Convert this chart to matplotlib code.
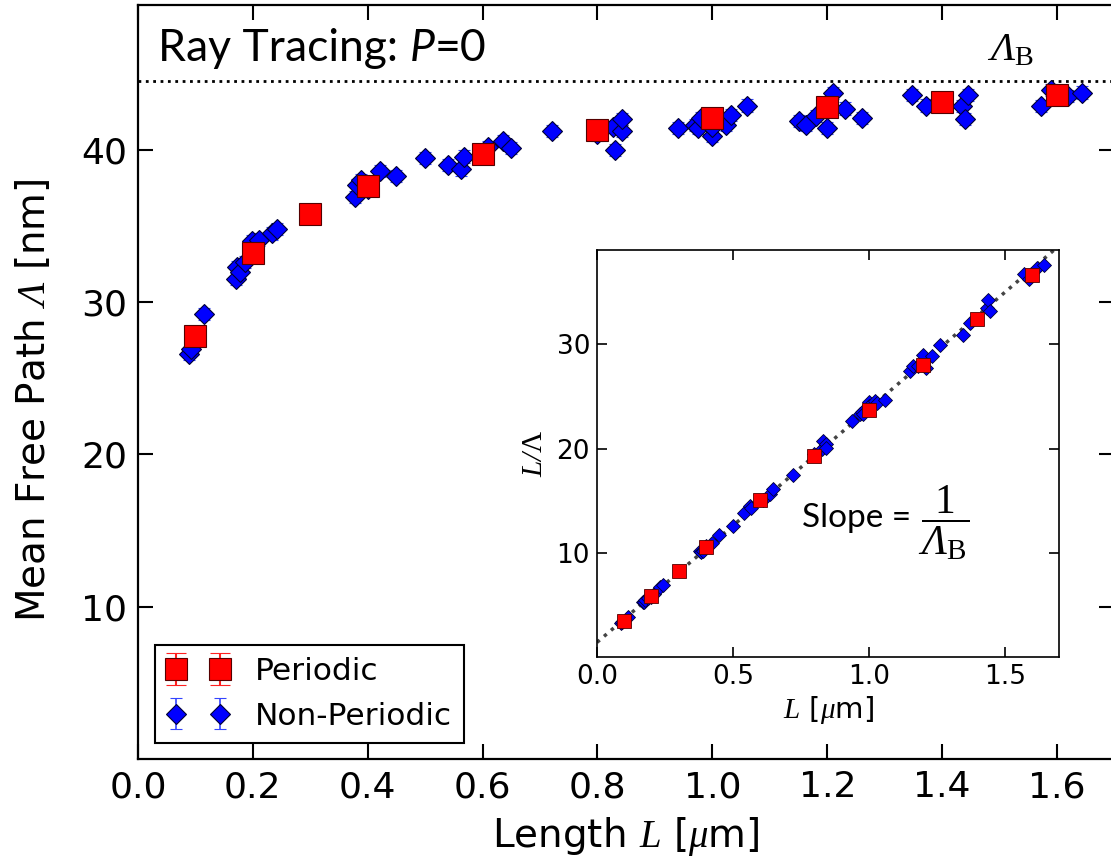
import matplotlib
matplotlib.use('Agg')
import matplotlib.pyplot as plt
from matplotlib.offsetbox import TextArea, HPacker, AnchoredOffsetbox

plt.rcParams['font.family'] = ['DejaVu Sans']
# math letters drawn in a serif italic, \mathsf used for upright serif
plt.rcParams['mathtext.fontset'] = 'custom'
plt.rcParams['mathtext.rm'] = 'Liberation Serif:italic'
plt.rcParams['mathtext.it'] = 'Liberation Serif:italic'
plt.rcParams['mathtext.sf'] = 'Liberation Serif'

# periodic runs (red squares)
L_p = [0.1, 0.2, 0.3, 0.4, 0.6, 0.8, 1.0, 1.2, 1.4, 1.6]
mfp_p = [27.8, 33.2, 35.8, 37.6, 39.7, 41.3, 42.1, 42.8, 43.1, 43.6]
err_p = 0.6
ratio_p = [3.55, 5.95, 8.35, 10.6, 15.1, 19.3, 23.75, 28.05, 32.4, 36.65]

# non-periodic runs (blue diamonds)
L_np = [0.088, 0.092, 0.115,
        0.170, 0.173, 0.178, 0.186, 0.198, 0.21, 0.233, 0.242,
        0.378, 0.381, 0.389, 0.40, 0.422, 0.45,
        0.50, 0.54, 0.562, 0.568, 0.61, 0.636, 0.649, 0.72,
        0.80, 0.827, 0.83, 0.843, 0.843,
        0.94, 0.969, 0.975, 0.98, 1.0, 1.0, 1.023, 1.032, 1.06,
        1.15, 1.163, 1.18, 1.20, 1.21, 1.231, 1.261,
        1.347, 1.372, 1.435, 1.439, 1.445,
        1.572, 1.59, 1.62, 1.643]
mfp_np = [26.6, 26.9, 29.2,
          31.5, 32.3, 32.0, 32.6, 34.0, 34.1, 34.5, 34.8,
          36.9, 37.7, 38.0, 37.4, 38.6, 38.25,
          39.45, 39.0, 38.7, 39.55, 40.2, 40.55, 40.1, 41.2,
          41.0, 41.5, 40.0, 41.2, 42.0,
          41.4, 41.6, 41.4, 42.1, 40.9, 41.5, 41.6, 42.3, 42.9,
          41.9, 41.6, 42.2, 41.4, 43.7, 42.7, 42.1,
          43.6, 42.9, 42.85, 42.0, 43.6,
          42.85, 43.9, 43.5, 43.75]
err_np = 0.4
ratio_np = [3.3, 3.4, 3.95,
            5.4, 5.35, 5.55, 5.7, 5.8, 6.15, 6.75, 6.95,
            10.25, 10.1, 10.25, 10.7, 10.95, 11.75,
            12.65, 13.85, 14.5, 14.35, 15.15, 15.7, 16.2, 17.5,
            19.5, 19.95, 20.75, 20.45, 20.05,
            22.7, 23.3, 23.55, 23.3, 24.45, 24.1, 24.6, 24.4, 24.7,
            27.45, 27.95, 27.95, 29.0, 27.7, 28.85, 29.95,
            30.9, 32.0, 33.5, 34.25, 33.15,
            36.7, 36.2, 37.25, 37.55]

mfp_bulk = 44.5
fit_L = [0.0, 1.7]
fit_ratio = [1.5, 39.4]

fig = plt.figure(figsize=(11.11, 8.57), dpi=100)
ax = fig.add_axes([0.1242, 0.1144, 0.8789, 0.8798])

ax.axhline(mfp_bulk, color='k', ls=':', lw=2, zorder=1)
ax.errorbar(L_np, mfp_np, yerr=err_np, fmt='D', color='#0000ff', ms=10,
            mec='#000033', mew=0.8, ecolor='#3344ff', elinewidth=1.2, capsize=4,
            label='Non-Periodic', zorder=2)
ax.errorbar(L_p, mfp_p, yerr=err_p, fmt='s', color='#ff0000', ms=15.5,
            mec='#550000', mew=0.8, ecolor='#ff2020', elinewidth=1.5, capsize=7,
            label='Periodic', zorder=3)

ax.set_xlim(0, 1.7)
ax.set_ylim(0, 49.5)
ax.set_xticks([0.0, 0.2, 0.4, 0.6, 0.8, 1.0, 1.2, 1.4, 1.6])
ax.set_yticks([10, 20, 30, 40])
ax.tick_params(direction='in', top=True, right=True, length=11, width=1.5,
               labelsize=26, pad=8)
for s in ax.spines.values():
    s.set_linewidth(1.6)

ax.set_xlabel(r'Length $L$ [$\mu$m]', fontsize=28)
ax.xaxis.set_label_coords(0.5, -0.074)
ax.set_ylabel(r'Mean Free Path $\Lambda$ [nm]', fontsize=28)
ax.yaxis.set_label_coords(-0.087, 0.476)

h, l = ax.get_legend_handles_labels()
leg = ax.legend(h[::-1], l[::-1], loc='lower left', bbox_to_anchor=(0.017, 0.021),
                borderaxespad=0, numpoints=2, fontsize=22.5, fancybox=False,
                edgecolor='k', framealpha=1, handletextpad=0.8, labelspacing=0.5)
leg.get_frame().set_linewidth(1.5)

title_parts = HPacker(children=[
    TextArea('Ray Tracing: ', textprops=dict(fontsize=32, family='Lato')),
    TextArea('P', textprops=dict(fontsize=32, family='Lato', style='italic')),
    TextArea('=0', textprops=dict(fontsize=32, family='Lato'))],
    align='baseline', pad=0, sep=0)
ab = AnchoredOffsetbox(loc='upper left', child=title_parts, frameon=False, pad=0,
                       borderpad=0, bbox_to_anchor=(0.021, 0.970),
                       bbox_transform=ax.transAxes)
ax.add_artist(ab)
ax.text(1.478, 45.9, r'$\Lambda_\mathsf{B}$', fontsize=29, va='baseline')

# inset: L / mfp
ins = fig.add_axes([0.5374, 0.2334, 0.4158, 0.4749])
ins.plot(fit_L, fit_ratio, color='#444444', ls=':', lw=2.5, zorder=1)
ins.plot(L_np, ratio_np, 'D', color='#0000ff', ms=7, mec='#000033', mew=0.6, zorder=2)
ins.plot(L_p, ratio_p, 's', color='#ff0000', ms=10.5, mec='#550000', mew=0.6, zorder=3)
ins.set_xlim(0, 1.7)
ins.set_ylim(0.1, 39)
ins.set_xticks([0.0, 0.5, 1.0, 1.5])
ins.set_yticks([10, 20, 30])
ins.tick_params(direction='in', top=True, right=True, length=7, width=1.2,
                labelsize=19, pad=5)
for s in ins.spines.values():
    s.set_linewidth(1.2)
ins.set_xlabel(r'$L$ [$\mu$m]', fontsize=21, labelpad=3)
ins.set_ylabel(r'$L/\mathsf{\Lambda}$', fontsize=21, labelpad=6)
ins.text(0.753, 12.5, 'Slope =', fontsize=24, family='Lato', va='baseline')
ins.text(1.274, 12.9, r'$\dfrac{\mathsf{1}}{\Lambda_\mathsf{B}}$', fontsize=30,
         ha='center', va='center')

fig.savefig('out.png', dpi=100)
